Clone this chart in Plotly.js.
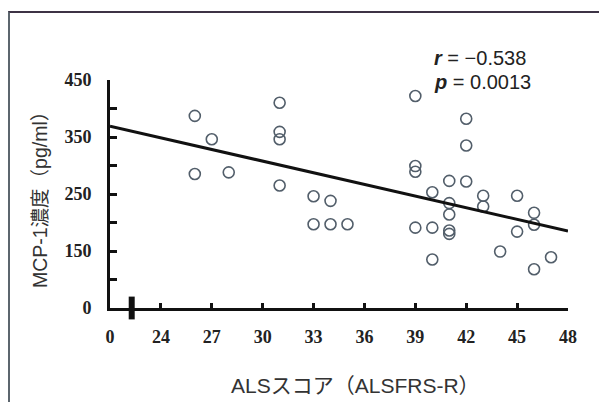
<!DOCTYPE html>
<html>
<head>
<meta charset="utf-8">
<script src="https://cdn.plot.ly/plotly-3.0.1.min.js"></script>
<style>
  html, body { margin: 0; padding: 0; background: #fff; }
  #wrap { position: relative; width: 599px; height: 402px; overflow: hidden; }
  #chart { position: absolute; left: 0; top: 0; width: 599px; height: 402px; }
  #frame { position: absolute; left: 8px; top: 11px; width: 620px; height: 420px;
           border-top: 2px solid #3d3345; border-left: 2px solid #5c666e; pointer-events: none; }
</style>
</head>
<body>
<div id="wrap">
  <div id="chart"></div>
  <div id="frame"></div>
</div>
<script>
// ALSFRS-R score (x) and MCP-1 concentration in pg/ml (y)
const alsfrsScore = [26, 26, 27, 28, 31, 31, 31, 31, 33, 33, 34, 34, 35,
                     39, 39, 39, 39, 40, 40, 40, 41, 41, 41, 41, 41,
                     42, 42, 42, 43, 43, 44, 45, 45, 46, 46, 46, 47];
const mcp1Conc    = [387, 285, 346, 288, 410, 359, 346, 265, 246, 197, 238, 197, 197,
                     422, 299, 289, 191, 253, 191, 135, 273, 234, 214, 186, 180,
                     382, 335, 272, 247, 228, 149, 247, 184, 217, 196, 118, 139];

// Regression line end points
const fitX = [21, 48];
const fitY = [369, 185];

// Axis ticks (axis is broken: lowest tick is labelled 0)
const xTickVals = [21, 24, 27, 30, 33, 36, 39, 42, 45, 48];
const xTickText = ['0', '24', '27', '30', '33', '36', '39', '42', '45', '48'];
const yTickVals = [50, 100, 150, 200, 250, 300, 350, 400, 450];
const yTickText = ['0', '', '150', '', '250', '', '350', '', '450'];

const statR = '<b><i>r</i></b> = −0.538';
const statP = '<b><i>p</i></b> = 0.0013';
const xTitle = 'ALSスコア（ALSFRS-R）';
const yTitle = 'MCP-1濃度（pg/ml）';

const sansJP = 'Arial, Liberation Sans, Noto Sans CJK JP, sans-serif';
const serif = 'Liberation Serif, Times New Roman, serif';

const traces = [
  {
    type: 'scatter', mode: 'markers',
    x: alsfrsScore, y: mcp1Conc,
    marker: { symbol: 'circle-open', size: 11, color: 'rgb(82,94,106)', line: { width: 1.6, color: 'rgb(82,94,106)' } },
    hoverinfo: 'x+y', showlegend: false, cliponaxis: false
  },
  {
    type: 'scatter', mode: 'lines',
    x: fitX, y: fitY,
    line: { color: '#111', width: 3 },
    hoverinfo: 'skip', showlegend: false
  }
];

const axisCommon = {
  showgrid: false, zeroline: false, showline: true,
  linecolor: '#111', linewidth: 3,
  ticks: 'inside', tickcolor: '#111', tickwidth: 2.5,
  tickmode: 'array',
  tickfont: { family: serif, size: 18, color: '#222', weight: 'bold' },
  fixedrange: true
};

const layout = {
  width: 599, height: 402,
  margin: { l: 110, r: 31, t: 80, b: 94 },
  paper_bgcolor: '#fff', plot_bgcolor: '#fff',
  showlegend: false,
  xaxis: Object.assign({}, axisCommon, {
    range: [21, 48], tickvals: xTickVals, ticktext: xTickText,
    ticklen: 5, ticklabelstandoff: 10
  }),
  yaxis: Object.assign({}, axisCommon, {
    range: [50, 450], tickvals: yTickVals, ticktext: yTickText,
    ticklen: 7, ticklabelstandoff: 12
  }),
  shapes: [
    { type: 'line', xref: 'x', yref: 'paper', x0: 22.28, x1: 22.28, y0: -0.05, y1: 0.05,
      line: { color: '#111', width: 6 } }
  ],
  annotations: [
    { xref: 'paper', yref: 'paper', x: 0.703, y: 1.096, xanchor: 'left', yanchor: 'middle',
      text: statR, showarrow: false, font: { family: sansJP, size: 20, color: '#222' } },
    { xref: 'paper', yref: 'paper', x: 0.703, y: 0.991, xanchor: 'left', yanchor: 'middle',
      text: statP, showarrow: false, font: { family: sansJP, size: 20, color: '#222' } },
    { xref: 'paper', yref: 'paper', x: 0.537, y: -0.342, xanchor: 'center', yanchor: 'middle',
      text: xTitle, showarrow: false, font: { family: sansJP, size: 21, color: '#333' } },
    { xref: 'paper', yref: 'paper', x: -0.153, y: 0.495, xanchor: 'center', yanchor: 'middle',
      text: yTitle, textangle: -90, showarrow: false, font: { family: sansJP, size: 19.5, color: '#333' } }
  ]
};

Plotly.newPlot('chart', traces, layout, { displayModeBar: false });
</script>
</body>
</html>
